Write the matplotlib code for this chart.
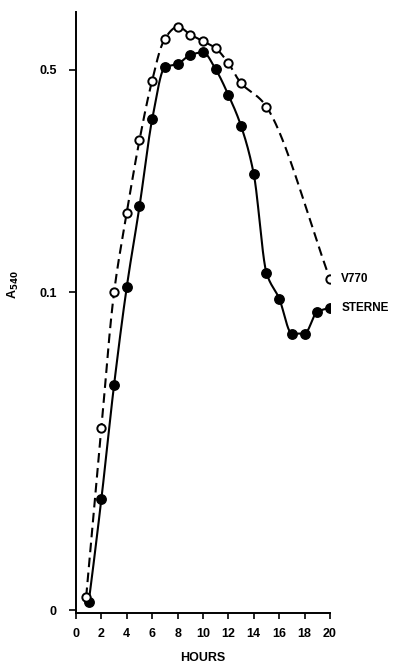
import numpy as np
import matplotlib
matplotlib.use("Agg")
import matplotlib.pyplot as plt

# Data (hours, A540)
v770_hours = [0.8, 2, 3, 4, 5, 6, 7, 8, 9, 10, 11, 12, 13, 15, 20]
v770_a540 = [0.0110, 0.0374, 0.100, 0.178, 0.301, 0.463, 0.626, 0.684, 0.646,
             0.616, 0.585, 0.525, 0.454, 0.383, 0.110]

sterne_hours = [1, 2, 3, 4, 5, 6, 7, 8, 9, 10, 11, 12, 13, 14, 15, 16, 17, 18, 19, 20]
sterne_a540 = [0.0106, 0.0224, 0.0512, 0.104, 0.186, 0.350, 0.510, 0.522, 0.557,
               0.568, 0.502, 0.417, 0.333, 0.235, 0.115, 0.0955, 0.0741, 0.0741,
               0.0867, 0.0889]

x_ticks = list(range(0, 21, 2))
y_ticks = [0.01, 0.1, 0.5]
y_tick_labels = ["0", "0.1", "0.5"]

plt.rcParams['font.family'] = ['Liberation Sans', 'DejaVu Sans']


def pchip_curve(xs, ys, n=400):
    """Shape-preserving (PCHIP) cubic drawn through the points in (x, log y)."""
    x = np.asarray(xs, float)
    y = np.log10(np.asarray(ys, float))
    h = np.diff(x)
    d = np.diff(y) / h
    m = len(x)
    s = np.zeros(m)
    for i in range(1, m - 1):
        if d[i - 1] * d[i] > 0:
            w1 = 2 * h[i] + h[i - 1]
            w2 = h[i] + 2 * h[i - 1]
            s[i] = (w1 + w2) / (w1 / d[i - 1] + w2 / d[i])

    def end_slope(h0, h1, d0, d1):
        v = ((2 * h0 + h1) * d0 - h0 * d1) / (h0 + h1)
        if np.sign(v) != np.sign(d0):
            v = 0.0
        elif np.sign(d0) != np.sign(d1) and abs(v) > abs(3 * d0):
            v = 3 * d0
        return v

    s[0] = end_slope(h[0], h[1], d[0], d[1])
    s[-1] = end_slope(h[-1], h[-2], d[-1], d[-2])
    xx = np.linspace(x[0], x[-1], n)
    k = np.clip(np.searchsorted(x, xx) - 1, 0, m - 2)
    t = (xx - x[k]) / h[k]
    h00 = 2 * t ** 3 - 3 * t ** 2 + 1
    h10 = t ** 3 - 2 * t ** 2 + t
    h01 = -2 * t ** 3 + 3 * t ** 2
    h11 = t ** 3 - t ** 2
    yy = h00 * y[k] + h10 * h[k] * s[k] + h01 * y[k + 1] + h11 * h[k] * s[k + 1]
    return xx, 10 ** yy


def catmull_curve(xs, ys, xscale=12.7, yscale=317.6, n=40):
    """Centripetal Catmull-Rom drawn through the points in (x, log y) space."""
    P = np.column_stack([np.asarray(xs, float) * xscale,
                         np.log10(np.asarray(ys, float)) * yscale])
    P = np.vstack([2 * P[0] - P[1], P, 2 * P[-1] - P[-2]])
    out = []
    for i in range(1, len(P) - 2):
        p0, p1, p2, p3 = P[i - 1], P[i], P[i + 1], P[i + 2]
        t0 = 0.0
        t1 = t0 + np.linalg.norm(p1 - p0) ** 0.5
        t2 = t1 + np.linalg.norm(p2 - p1) ** 0.5
        t3 = t2 + np.linalg.norm(p3 - p2) ** 0.5
        t = np.linspace(t1, t2, n)[:, None]
        a1 = (t1 - t) / (t1 - t0) * p0 + (t - t0) / (t1 - t0) * p1
        a2 = (t2 - t) / (t2 - t1) * p1 + (t - t1) / (t2 - t1) * p2
        a3 = (t3 - t) / (t3 - t2) * p2 + (t - t2) / (t3 - t2) * p3
        b1 = (t2 - t) / (t2 - t0) * a1 + (t - t0) / (t2 - t0) * a2
        b2 = (t3 - t) / (t3 - t1) * a2 + (t - t1) / (t3 - t1) * a3
        c = (t2 - t) / (t2 - t1) * b1 + (t - t1) / (t2 - t1) * b2
        out.append(c if i == 1 else c[1:])
    C = np.vstack(out)
    return C[:, 0] / xscale, 10 ** (C[:, 1] / yscale)


fig = plt.figure(figsize=(3.95, 6.64), dpi=100)
ax = fig.add_axes([0.1924, 0.0768, 0.643, 0.905])

ax.set_yscale('log')
ax.set_xlim(0, 20)
ax.set_ylim(0.0098, 0.76)

cx, cy = catmull_curve(v770_hours, v770_a540)
ax.plot(cx, cy, color='black', lw=1.5, dashes=(4.6, 2.6), zorder=2)
cx, cy = pchip_curve(sterne_hours, sterne_a540)
ax.plot(cx, cy, color='black', lw=1.5, zorder=2)

ax.plot(v770_hours, v770_a540, 'o', ms=6.0, mfc='white', mec='black', mew=1.4,
        zorder=4)
ax.plot(sterne_hours, sterne_a540, 'o', ms=6.8, mfc='black', mec='black',
        zorder=3)

for s in ['top', 'right']:
    ax.spines[s].set_visible(False)
for s in ['left', 'bottom']:
    ax.spines[s].set_linewidth(1.4)

ax.set_xticks(x_ticks)
ax.set_xticklabels([str(v) for v in x_ticks], fontsize=9, fontweight='bold')
ax.set_yticks(y_ticks)
ax.set_yticklabels(y_tick_labels, fontsize=9, fontweight='bold')
ax.yaxis.set_minor_locator(matplotlib.ticker.NullLocator())
ax.tick_params(axis='x', which='major', direction='out', length=4, width=1.2,
               pad=7)
ax.tick_params(axis='y', which='major', direction='out', length=5, width=1.2,
               pad=9)

ax.text(20.9, 0.110, 'V770', fontsize=8.5, fontweight='bold', va='center',
        ha='left')
ax.text(20.9, 0.0889, 'STERNE', fontsize=8.5, fontweight='bold', va='center',
        ha='left')

fig.text(203 / 395, 1 - 658 / 664, 'HOURS', fontsize=9, fontweight='bold',
         ha='center', va='center')
fig.text(13 / 395, 1 - 285 / 664, r'A$_{\mathbf{540}}$', fontsize=9,
         fontweight='bold', rotation=90, ha='center', va='center')

fig.savefig('out.png', dpi=100)
